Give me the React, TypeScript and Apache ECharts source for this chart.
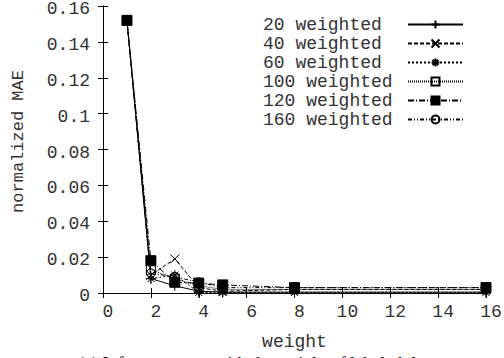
import React, { useEffect, useRef } from "react";
import * as echarts from "echarts";

const weights = [1, 2, 3, 4, 5, 8, 16];
const seriesNames = ["20 weighted", "40 weighted", "60 weighted", "100 weighted", "120 weighted", "160 weighted"];
const w20 = [0.152, 0.008, 0.004, 0.001, 0.0005, 0.0005, 0.0005];
const w40 = [0.152, 0.010, 0.019, 0.003, 0.001, 0.002, 0.002];
const w60 = [0.152, 0.008, 0.010, 0.0003, 0.0003, 0.0003, 0.0003];
const w100 = [0.152, 0.013, 0.008, 0.004, 0.002, 0.002, 0.002];
const w120 = [0.152, 0.018, 0.006, 0.0055, 0.0045, 0.003, 0.003];
const w160 = [0.152, 0.011, 0.009, 0.006, 0.003, 0.003, 0.003];
const allValues = [w20, w40, w60, w100, w120, w160];

const symbols = [
  "path://M5,0 L5,10 M0,5 L10,5",
  "path://M0,0 L10,10 M10,0 L0,10",
  "path://M5,0 L5,10 M0,5 L10,5 M1.5,1.5 L8.5,8.5 M8.5,1.5 L1.5,8.5",
  "path://M0,0 L10,0 L10,10 L0,10 Z",
  "rect",
  "path://M10,5 A5,5 0 1,1 0,5 A5,5 0 1,1 10,5 Z",
];
const symbolFills = ["#000", "#000", "#000", "rgba(0,0,0,0)", "#000", "rgba(0,0,0,0)"];
const symbolSizes = [10, 9, 10, 9, 10, 9];
const dashes: any[] = ["solid", [4, 2], [2, 2], [1, 1], [6, 2, 1, 2], [4, 2, 1, 2, 1, 2]];

const FONT = "'Liberation Mono', 'DejaVu Sans Mono', monospace";
const TXT = "#333";

export default function App() {
  const ref = useRef<HTMLDivElement>(null);
  useEffect(() => {
    if (!ref.current) return;
    const chart = echarts.init(ref.current, null, { renderer: "svg" });
    const axisLine = { show: true, lineStyle: { color: "#000", width: 1 } };
    const tick = { show: true, inside: true, length: 5, lineStyle: { color: "#000", width: 1 } };
    chart.setOption({
      animation: false,
      backgroundColor: "#fff",
      grid: { left: 103, right: 18, top: 6, bottom: 65, containLabel: false, outerBoundsMode: "none" },
      legend: {
        orient: "vertical",
        right: 35,
        top: 10,
        align: "right",
        itemWidth: 55,
        itemHeight: 10,
        itemGap: 0,
        data: seriesNames,
        formatter: (name: string) => "{a|" + name + "}",
        textStyle: {
          fontFamily: FONT,
          fontSize: 18,
          color: TXT,
          lineHeight: 19,
          rich: {
            a: {
              fontFamily: FONT,
              fontSize: 18,
              color: TXT,
              lineHeight: 19,
              width: 140,
              align: "left",
            },
          },
        },
      },
      xAxis: [
        {
          type: "value",
          min: 0,
          max: 16,
          interval: 2,
          position: "bottom",
          axisLine,
          axisTick: tick,
          splitLine: { show: false },
          axisLabel: { fontFamily: FONT, fontSize: 18, color: TXT, margin: 10, padding: [0, 0, 0, 10] },
          name: "weight",
          nameLocation: "middle",
          nameGap: 40,
          nameTextStyle: { fontFamily: FONT, fontSize: 18, color: TXT },
        },
        {
          type: "value",
          min: 0,
          max: 16,
          interval: 2,
          position: "top",
          axisLine,
          axisTick: tick,
          splitLine: { show: false },
          axisLabel: { show: false },
        },
      ],
      yAxis: [
        {
          type: "value",
          min: 0,
          max: 0.16,
          interval: 0.02,
          position: "left",
          axisLine,
          axisTick: tick,
          splitLine: { show: false },
          axisLabel: {
            fontFamily: FONT,
            fontSize: 18,
            color: TXT,
            margin: 13,
            verticalAlign: "top",
            lineHeight: 6,
          },
          name: "normalized MAE",
          nameLocation: "middle",
          nameGap: 76,
          nameRotate: 90,
          nameTextStyle: { fontFamily: FONT, fontSize: 17, color: TXT, padding: [0, 0, 0, 16] },
        },
        {
          type: "value",
          min: 0,
          max: 0.16,
          interval: 0.02,
          position: "right",
          axisLine,
          axisTick: tick,
          splitLine: { show: false },
          axisLabel: { show: false },
        },
      ],
      graphic: [
        {
          type: "text",
          left: 78,
          top: 355,
          style: {
            text: "(c) Inference error with the weight of labeled data",
            font: "18px 'Liberation Serif', serif",
            fill: "#000",
          },
        },
      ],
      series: allValues.map((vals, i) => ({
        name: seriesNames[i],
        type: "line",
        xAxisIndex: 0,
        yAxisIndex: 0,
        data: weights.map((w, j) => [w, vals[j]]),
        symbol: symbols[i],
        symbolSize: symbolSizes[i],
        showAllSymbol: true,
        clip: false,
        z: 2 + i,
        lineStyle: { color: "#000", width: 1, type: dashes[i] },
        itemStyle: { color: symbolFills[i], borderColor: "#000", borderWidth: 1 },
      })),
    });
    return () => chart.dispose();
  }, []);
  return (
    <div
      ref={ref}
      style={{ position: "fixed", left: 0, top: 0, width: 504, height: 358 }}
    />
  );
}
